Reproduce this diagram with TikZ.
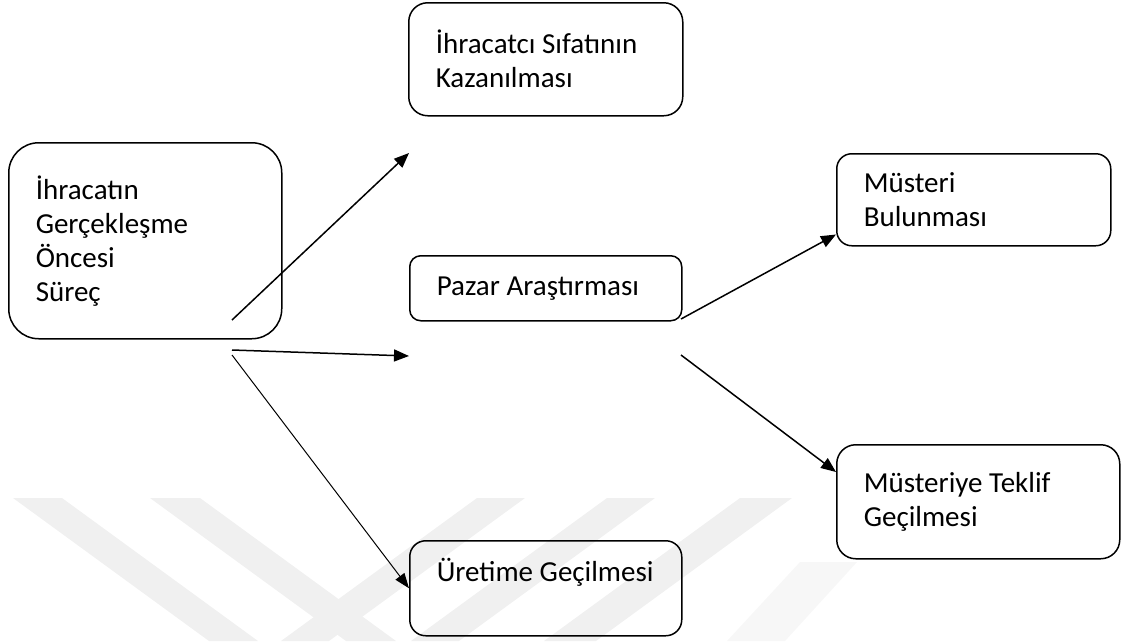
\documentclass[tikz,border=0pt]{standalone}
\usepackage{fontspec}
\setmainfont{Carlito}
\usetikzlibrary{arrows.meta}

\begin{document}
\begin{tikzpicture}[x=1pt, y=-1pt]
  \useasboundingbox (0,0) rectangle (1124,641);

  % faint stripes in the background
  \foreach \a/\b in {13/62, 150/200}
    \fill[gray!12] (\a,498) -- (\b,498) -- (\b+196,641) -- (\a+196,641) -- cycle;
  \foreach \a/\b in {477/525, 607/655, 740/792}
    \fill[gray!12] (\a,498) -- (\b,498) -- (\b-196,641) -- (\a-196,641) -- cycle;
  \fill[gray!6] (727,641) -- (785,641) -- (857,562) -- (800,562) -- cycle;

  {\tikzstyle{every node}=[draw, line width=1.5pt, anchor=north west, align=flush left,
      inner xsep=27pt, font=\fontsize{29}{34}\selectfont]
    \node[rounded corners=30pt, text width=219pt, minimum height=196pt] (preexport) at (8,142)
      {İhracatın\\Gerçekleşme\\Öncesi\\Süreç};
    \node[rounded corners=19pt, text width=220pt, minimum height=113pt] (status) at (408,2)
      {İhracatcı Sıfatının\\Kazanılması};
    \node[rounded corners=11pt, text width=218pt, minimum height=65pt] (market) at (409,255)
      {Pazar Araştırması};
    \node[rounded corners=15pt, text width=220pt, minimum height=92pt] (customer) at (836,153)
      {Müsteri\\Bulunması};
    \node[rounded corners=19pt, text width=229pt, minimum height=114pt] (offer) at (836,444)
      {Müsteriye Teklif\\Geçilmesi};
    \node[rounded corners=16pt, text width=218pt, minimum height=95pt, text depth=36pt] (production) at (409,540)
      {Üretime Geçilmesi};
  }

  \coordinate (s1) at (232,320);
  \coordinate (e1) at (409,153);
  \coordinate (s2) at (232,350);
  \coordinate (e2) at (409,356);
  \coordinate (s3) at (232,355);
  \coordinate (s4) at (681,319);
  \coordinate (s5) at (681,355);

  \draw [line width=1.5pt, -{Triangle[length=15pt, width=12pt]}]
    (s1) -- (e1);
  \draw [line width=1.5pt, -{Triangle[length=15pt, width=12pt]}]
    (s2) -- (e2);
  \draw [line width=1pt, -{Triangle[length=15pt, width=11pt]}]
    (s3) -- (production.west);
  \draw [line width=1.5pt, -{Triangle[length=15pt, width=12pt]}]
    (s4) -- ([yshift=12pt]customer.south west);
  \draw [line width=1.5pt, -{Triangle[length=15pt, width=12pt]}]
    (s5) -- ([yshift=-28pt]offer.north west);
\end{tikzpicture}
\end{document}
